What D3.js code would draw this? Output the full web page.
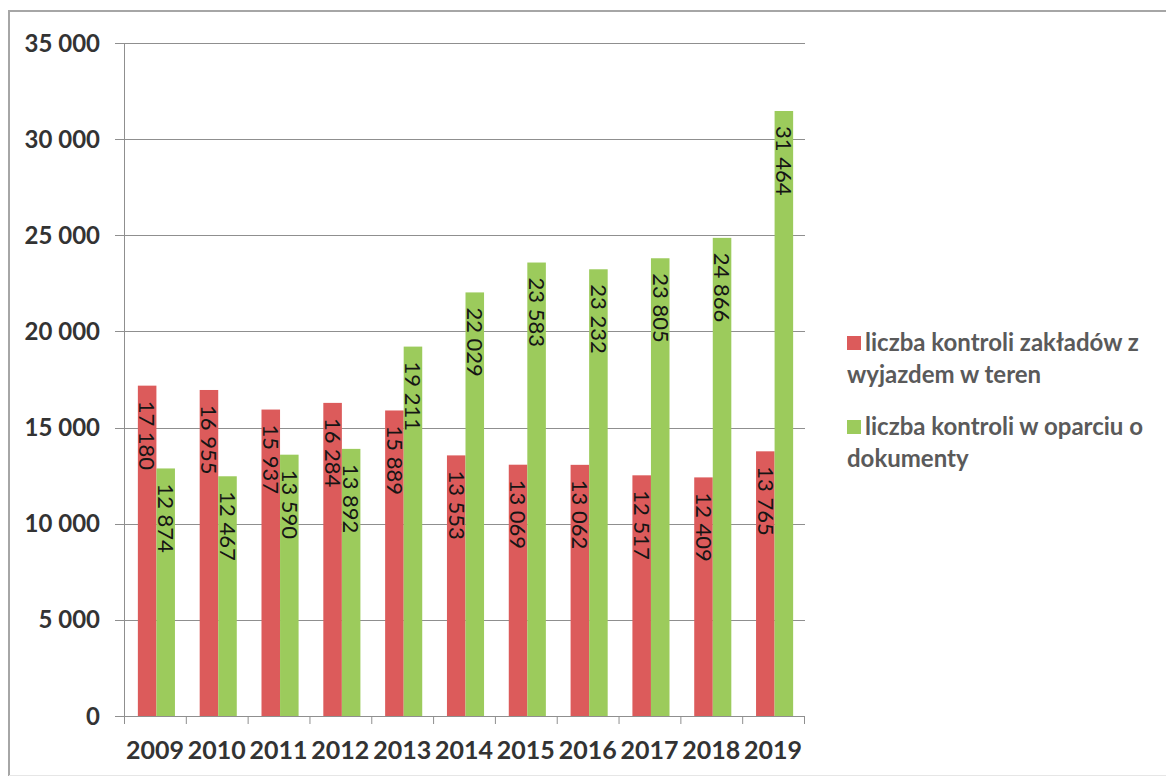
<!DOCTYPE html>
<html>
<head>
<meta charset="utf-8">
<script src="https://cdn.jsdelivr.net/npm/d3@7"></script>
<style>
  html, body { margin: 0; padding: 0; background: #fff; }
  svg { display: block; }
</style>
</head>
<body>
<svg id="chart" width="1166" height="777"></svg>
<script>
// Yearly number of inspections, two series
const years = ["2009", "2010", "2011", "2012", "2013", "2014", "2015", "2016", "2017", "2018", "2019"];
const fieldInspections = [17180, 16955, 15937, 16284, 15889, 13553, 13069, 13062, 12517, 12409, 13765];
const documentInspections = [12874, 12467, 13590, 13892, 19211, 22029, 23583, 23232, 23805, 24866, 31464];
const seriesNames = ["liczba kontroli zakładów z wyjazdem w teren", "liczba kontroli w oparciu o dokumenty"];
const legendLines = [["liczba kontroli zakładów z", "wyjazdem w teren"], ["liczba kontroli w oparciu o", "dokumenty"]];
const yTicks = [0, 5000, 10000, 15000, 20000, 25000, 30000, 35000];
const colors = ["#dc5b5b", "#9ccb5c"];

const series = [fieldInspections, documentInspections];
const svg = d3.select("#chart");
const font = "Lato, 'Open Sans', sans-serif";

// chart frame
svg.append("path")
  .attr("d", "M9,776 L9,11 L1166,11")
  .attr("fill", "none").attr("stroke", "#a6a6a6").attr("stroke-width", 2);
svg.append("line").attr("x1", 9).attr("x2", 1166).attr("y1", 775.5).attr("y2", 775.5)
  .attr("stroke", "#e6e6e6").attr("stroke-width", 1);

const plotLeft = 124, plotRight = 804, plotTop = 43, plotBottom = 716;

const x = d3.scaleBand().domain(years).range([plotLeft + 1.5, plotRight + 1.5]).paddingInner(0.4).paddingOuter(0.2);
const xs = d3.scaleBand().domain([0, 1]).range([0, x.bandwidth()]);
const y = d3.scaleLinear().domain([0, 35000]).range([plotBottom, plotTop]);
const fmt = v => d3.format(",")(v).replace(/,/g, " ");

// gridlines with left tick marks
svg.append("g").selectAll("line").data(yTicks).join("line")
  .attr("x1", plotLeft - 9).attr("x2", plotRight + 1)
  .attr("y1", d => Math.round(y(d)) + 0.5).attr("y2", d => Math.round(y(d)) + 0.5)
  .attr("stroke", "#8f8f8f").attr("stroke-width", 1);

// y axis line
svg.append("line").attr("x1", plotLeft + 0.5).attr("x2", plotLeft + 0.5)
  .attr("y1", plotTop).attr("y2", plotBottom)
  .attr("stroke", "#8f8f8f").attr("stroke-width", 1);

// y tick labels
svg.append("g").selectAll("text").data(yTicks).join("text")
  .attr("x", 100).attr("y", d => y(d))
  .attr("dy", "0.36em")
  .attr("text-anchor", "end")
  .attr("font-family", font).attr("font-weight", 700).attr("font-size", 24)
  .attr("fill", "#333")
  .text(fmt);

// bars
const groups = svg.append("g").selectAll("g").data(years).join("g")
  .attr("transform", d => `translate(${x(d)},0)`);

groups.selectAll("rect")
  .data((d, i) => series.map((s, k) => ({ k, v: s[i] })))
  .join("rect")
  .attr("x", d => xs(d.k)).attr("width", xs.bandwidth())
  .attr("y", d => y(d.v)).attr("height", d => y(0) - y(d.v))
  .attr("fill", d => colors[d.k]);

// value labels, rotated, inside the bar top
groups.selectAll("text")
  .data((d, i) => series.map((s, k) => ({ k, v: s[i] })))
  .join("text")
  .attr("transform", d => `translate(${xs(d.k) + xs.bandwidth() / 2},${y(d.v) + 15}) rotate(90)`)
  .attr("dy", "0.35em")
  .attr("text-anchor", "start")
  .attr("font-family", font).attr("font-size", 22)
  .attr("fill", "#151515")
  .text(d => fmt(d.v));

// x axis line and category separators
svg.append("line").attr("x1", plotLeft).attr("x2", plotRight + 1)
  .attr("y1", plotBottom + 0.5).attr("y2", plotBottom + 0.5)
  .attr("stroke", "#8f8f8f").attr("stroke-width", 1);
const step = (plotRight - plotLeft) / years.length;
svg.append("g").selectAll("line").data(d3.range(years.length + 1)).join("line")
  .attr("x1", i => plotLeft + i * step + 0.5).attr("x2", i => plotLeft + i * step + 0.5)
  .attr("y1", plotBottom).attr("y2", plotBottom + 8)
  .attr("stroke", "#8f8f8f").attr("stroke-width", 1);

// x labels
svg.append("g").selectAll("text").data(years).join("text")
  .attr("x", d => plotLeft + (years.indexOf(d) + 0.5) * step)
  .attr("y", 759)
  .attr("text-anchor", "middle")
  .attr("font-family", font).attr("font-weight", 700).attr("font-size", 25)
  .attr("fill", "#333")
  .text(d => d);

// legend
const legend = svg.append("g");
const legendY = [343, 427];
seriesNames.forEach((name, k) => {
  const g = legend.append("g").attr("transform", `translate(847,${legendY[k]})`);
  g.append("rect").attr("x", 0).attr("y", -7).attr("width", 14).attr("height", 14).attr("fill", colors[k]);
  g.append("text")
    .attr("x", 18).attr("y", 0)
    .attr("font-family", font).attr("font-weight", 700).attr("font-size", 24)
    .attr("fill", "#5a5a5a")
    .selectAll("tspan").data(legendLines[k]).join("tspan")
    .attr("x", (d, i) => i === 0 ? 18 : 0)
    .attr("dy", (d, i) => i === 0 ? "0.35em" : 32)
    .text(d => d);
});
</script>
</body>
</html>
